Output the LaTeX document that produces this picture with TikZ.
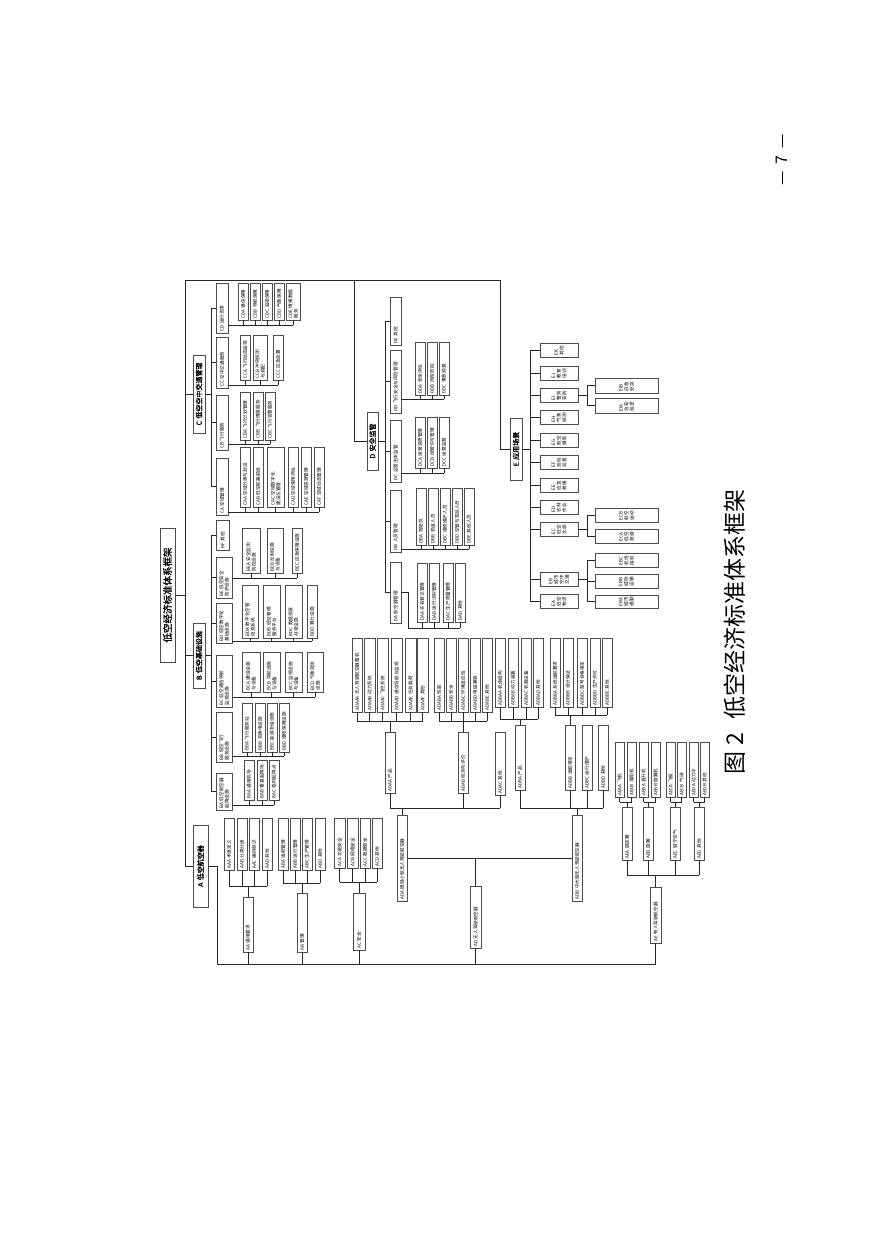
\documentclass[tikz,border=0pt]{standalone}
\usepackage{fontspec}
\setmainfont{Noto Sans CJK SC}
\newfontfamily\heibold[FakeBold=1.2]{Noto Sans CJK SC}
\tikzset{
  bx/.style={draw=black!70, line width=0.5pt, rotate=90, inner xsep=1.5pt, inner ysep=0.5pt,
    font=\fontsize{4.6}{5.5}\selectfont, align=left, fill=white, text=black},
  mainst/.style={font=\heibold\fontsize{7}{8}\selectfont, align=center, line width=0.6pt},
  rootst/.style={font=\heibold\fontsize{9.5}{10}\selectfont, align=center, line width=0.7pt},
  est/.style={align=left},
  cn/.style={draw=black!85, line width=0.8pt},
}
\newcommand{\bx}[7][]{%
  \pgfmathsetmacro{\bxcx}{(#3+#5)/2}%
  \pgfmathsetmacro{\bxcy}{(#4+#6)/2}%
  \pgfmathsetmacro{\bxtw}{#6-#4-3}%
  \pgfmathsetmacro{\bxmh}{#5-#3}%
  \node[bx,#1,text width=\bxtw pt,minimum height=\bxmh pt] (#2) at (\bxcx,\bxcy) {#7};%
}
\newcommand{\upbus}[4]{%
  \coordinate (ub) at (0,#2);
  \draw[cn] (#1.south |- ub) -- (#4.west |- ub);
  \foreach \nd in {#3}{\draw[cn] (\nd.west) -- (\nd.west |- ub);}
}
\newcommand{\upbusj}[4]{%
  \coordinate (ub) at (0,#2);
  \draw[cn] (#1.south) -- ++(7,0) |- (#4.west |- ub);
  \foreach \nd in {#3}{\draw[cn] (\nd.west) -- (\nd.west |- ub);}
}
\newcommand{\dnbus}[5]{%
  \coordinate (db) at (0,#2);
  \draw[cn] (#1.east) -- (#1.east |- db);
  \draw[cn] (#4.west |- db) -- (#5.west |- db);
  \foreach \nd in {#3}{\draw[cn] (\nd.west) -- (\nd.west |- db);}
}
\newcommand{\lbus}[5]{%
  \coordinate (lb) at (#2,0);
  \draw[cn] (#1.south) -- (#1.south -| lb);
  \draw[cn] (#4.north -| lb) -- (#5.north -| lb);
  \foreach \nd in {#3}{\draw[cn] (\nd.north -| lb) -- (\nd.north);}
}
\begin{document}
\begin{tikzpicture}[x=1pt,y=-1pt]
\fill[white] (0,0) rectangle (883,1248);
\useasboundingbox (0,0) rectangle (883,1248);

% ---------- root and main branches
\bx[rootst]{root}{160}{528}{175}{662}{低空经济标准体系框架}
\bx[mainst]{A}{193}{825}{208}{907}{A\ 低空航空器}
\bx[mainst]{B}{193}{623}{205}{688}{B\ 低空基础设施}
\bx[mainst]{C}{193}{355}{205}{433}{C\ 低空空中交通管理}
\bx[mainst]{D}{367}{412}{378}{470}{D\ 安全监管}
\bx[mainst]{E}{510}{418}{522}{480}{E\ 应用场景}

% ---------- C
\bx{CD}{216}{283}{228}{333}{CD 运行支撑}
\bx{CC}{216}{337}{228}{388}{CC 空中交通服务}
\bx{CB}{216}{395}{228}{450}{CB 飞行服务}
\bx{CA}{216}{458}{228}{515}{CA 空域管理}
\bx{CDA}{238}{283}{248}{320}{CDA 通信保障}
\bx{CDB}{250}{283}{260}{320}{CDB 导航保障}
\bx{CDC}{262}{283}{272}{320}{CDC 监视保障}
\bx{CDD}{274}{283}{284}{320}{CDD 气象保障}
\bx{CDE}{286}{283}{300}{320}{CDE 情报数据\\服务}
\bx{CCA}{240}{335}{250}{380}{CCA 飞行动态监视}
\bx{CCB}{253}{335}{267}{380}{CCB 冲突探测\\与调配}
\bx{CCC}{273}{335}{283}{380}{CCC 应急处置}
\bx{CBA}{240}{392}{250}{440}{CBA 飞行计划管理}
\bx{CBB}{253}{392}{263}{440}{CBB 飞行情报服务}
\bx{CBC}{265}{392}{275}{440}{CBC 飞行告警服务}
\bx{CAA}{240}{447}{250}{507}{CAA 空域分类与划设}
\bx{CAB}{253}{447}{263}{507}{CAB 低空航路航线}
\bx{CAC}{267}{447}{284}{507}{CAC 空域数字化\\建设与管理}
\bx{CAD}{288}{447}{298}{507}{CAD 空域使用评估}
\bx{CAE}{301}{447}{311}{507}{CAE 空域资源管理}
\bx{CAF}{314}{447}{324}{507}{CAF 空域动态管理}

% ---------- B
\bx{BF}{216}{520}{229}{550}{BF 其他}
\bx{BE}{216}{557}{232}{598}{BE 低空安全\\防护设施}
\bx{BD}{216}{603}{232}{643}{BD 低空数字化\\基础设施}
\bx{BC}{216}{655}{232}{707}{BC 低空通信导航\\监视设施}
\bx{BB}{216}{712}{232}{762}{BB 低空飞行\\服务设施}
\bx{BA}{216}{773}{232}{810}{BA 低空航空器\\起降设施}
\bx{BEA}{242}{528}{260}{573}{BEA 安全监测\\防控设施}
\bx{BEB}{267}{528}{283}{573}{BEB 反制设施\\与设备}
\bx{BEC}{292}{528}{302}{573}{BEC 应急保障设施}
\bx{BDA}{242}{585}{258}{638}{BDA 数字化空管\\信息系统}
\bx{BDB}{263}{585}{280}{638}{BDB 低空管理\\服务平台}
\bx{BDC}{285}{585}{302}{638}{BDC 数据资源\\共享设施}
\bx{BDD}{307}{585}{317}{638}{BDD 算力设施}
\bx{BCA}{242}{652}{260}{692}{BCA 通信设施\\与设备}
\bx{BCB}{263}{652}{280}{692}{BCB 导航设施\\与设备}
\bx{BCC}{285}{652}{302}{692}{BCC 监视设施\\与设备}
\bx{BCD}{307}{652}{323}{692}{BCD 气象观测\\设施}
\bx{BBA}{242}{703}{252}{752}{BBA 飞行服务站}
\bx{BBB}{255}{703}{265}{752}{BBB 充换电设施}
\bx{BBC}{267}{703}{277}{752}{BBC 能源补给设施}
\bx{BBD}{279}{703}{289}{752}{BBD 维修保障设施}
\bx{BAA}{244}{760}{254}{800}{BAA 通用机场}
\bx{BAB}{257}{760}{267}{800}{BAB 垂直起降场}
\bx{BAC}{269}{760}{279}{800}{BAC 临时起降点}

% ---------- D
\bx{DE}{390}{297}{401}{345}{DE 其他}
\bx{DD}{390}{350}{401}{413}{DD 飞行安全与风险管理}
\bx{DC}{390}{420}{401}{482}{DC 运营主体监管}
\bx{DB}{390}{490}{401}{552}{DB 人员管理}
\bx{DA}{390}{562}{401}{623}{DA 航空器管理}
\bx{DDA}{415}{342}{425}{395}{DDA 安全评估}
\bx{DDB}{427}{342}{437}{395}{DDB 风险防控}
\bx{DDC}{439}{342}{449}{395}{DDC 事故调查}
\bx{DCA}{415}{417}{425}{468}{DCA 运营资质管理}
\bx{DCB}{427}{417}{437}{468}{DCB 经营许可管理}
\bx{DCC}{439}{417}{449}{468}{DCC 运营监督}
\bx{DBA}{416}{488}{426}{545}{DBA 驾驶员}
\bx{DBB}{428}{488}{438}{545}{DBB 机组人员}
\bx{DBC}{440}{488}{450}{545}{DBC 维修维护人员}
\bx{DBD}{452}{488}{462}{545}{DBD 空管与签派人员}
\bx{DBE}{464}{488}{474}{545}{DBE 其他人员}
\bx{DAA}{417}{563}{427}{622}{DAA 实名登记管理}
\bx{DAB}{429}{563}{439}{622}{DAB 运行识别管理}
\bx{DAC}{443}{563}{453}{622}{DAC 生产质量管理}
\bx{DAD}{455}{563}{465}{622}{DAD 其他}

% ---------- E
\bx[est]{EK}{540}{343}{578}{357}{EK\\其他}
\bx[est]{EJ}{540}{366}{578}{380}{EJ\\教育\\培训}
\bx[est]{EI}{540}{388}{578}{402}{EI\\警务\\安防}
\bx[est]{EH}{540}{410}{578}{424}{EH\\气象\\探测}
\bx[est]{EG}{540}{433}{578}{447}{EG\\航空\\摄影}
\bx[est]{EF}{540}{455}{578}{469}{EF\\巡检\\巡查}
\bx[est]{EE}{540}{478}{578}{492}{EE\\应急\\救援}
\bx[est]{ED}{540}{500}{578}{514}{ED\\农林\\作业}
\bx[est]{EC}{540}{522}{578}{536}{EC\\低空\\文旅}
\bx[est]{EB}{540}{572}{578}{586}{EB\\城市\\空中\\交通}
\bx[est]{EA}{540}{594}{578}{608}{EA\\低空\\物流}
\bx[est]{EIB}{595}{378}{658}{393}{EIB\\应急\\处突}
\bx[est]{EIA}{595}{398}{658}{413}{EIA\\治安\\巡逻}
\bx[est]{ECB}{595}{508}{658}{522}{ECB\\航空\\运动}
\bx[est]{ECA}{595}{529}{658}{543}{ECA\\低空\\旅游}
\bx[est]{EBC}{595}{553}{658}{567}{EBC\\机场\\接驳}
\bx[est]{EBB}{595}{574}{658}{588}{EBB\\城际\\运输}
\bx[est]{EBA}{595}{595}{658}{608}{EBA\\城市\\通勤}

% ---------- A
\bx{AAA}{224}{818}{234}{870}{AAA 术语定义}
\bx{AAB}{237}{818}{247}{870}{AAB 分类分级}
\bx{AAC}{249}{818}{259}{870}{AAC 编码标识}
\bx{AAD}{262}{818}{272}{870}{AAD 其他}
\bx{AA}{243}{897}{253}{952}{AA 通用要求}
\bx{ABA}{278}{818}{288}{870}{ABA 适航管理}
\bx{ABB}{290}{818}{300}{870}{ABB 运行管理}
\bx{ABC}{302}{818}{312}{870}{ABC 生产管理}
\bx{ABD}{315}{818}{325}{870}{ABD 其他}
\bx{AB}{297}{893}{307}{952}{AB 管理}
\bx{ACA}{334}{818}{345}{868}{ACA 功能安全}
\bx{ACB}{347}{818}{358}{868}{ACB 网络安全}
\bx{ACC}{360}{818}{370}{868}{ACC 数据安全}
\bx{ACD}{372}{818}{382}{868}{ACD 其他}
\bx{AC}{353}{893}{365}{950}{AC 安全}

\bx{AD}{470}{886}{481}{948}{AD 无人驾驶航空器}
\bx{ADA}{397}{815}{407}{901}{ADA 微轻小型无人驾驶航空器}
\bx{ADB}{572}{815}{582}{901}{ADB 中大型无人驾驶航空器}
\bx{ADAA}{385}{732}{395}{793}{ADAA 产品}
\bx{ADAB}{458}{732}{468}{793}{ADAB 检测与评价}
\bx{ADAC}{495}{732}{505}{795}{ADAC 其他}
\bx{ADAAA}{352}{638}{362}{712}{ADAAA 无人驾驶航空器整机}
\bx{ADAAB}{364}{638}{375}{712}{ADAAB 动力系统}
\bx{ADAAC}{377}{638}{388}{712}{ADAAC 飞控系统}
\bx{ADAAD}{391}{638}{402}{712}{ADAAD 通信导航与监视}
\bx{ADAAE}{405}{638}{416}{712}{ADAAE 任务载荷}
\bx{ADAAF}{417}{638}{428}{712}{ADAAF 其他}
\bx{ADABA}{434}{638}{444}{712}{ADABA 性能}
\bx{ADABB}{446}{638}{456}{712}{ADABB 安全}
\bx{ADABC}{458}{638}{468}{712}{ADABC 环境适应性}
\bx{ADABD}{470}{638}{480}{712}{ADABD 电磁兼容}
\bx{ADABE}{482}{638}{492}{712}{ADABE 其他}
\bx{ADBA}{515}{725}{525}{790}{ADBA 产品}
\bx{ADBB}{565}{725}{575}{790}{ADBB 适航审定}
\bx{ADBC}{582}{725}{592}{790}{ADBC 运行维护}
\bx{ADBD}{598}{725}{608}{790}{ADBD 其他}
\bx{ADBAA}{495}{638}{505}{707}{ADBAA 机体结构}
\bx{ADBAB}{508}{638}{518}{707}{ADBAB 动力装置}
\bx{ADBAC}{521}{638}{531}{707}{ADBAC 机载设备}
\bx{ADBAD}{533}{638}{543}{707}{ADBAD 其他}
\bx{ADBBA}{550}{638}{560}{707}{ADBBA 系统适航要求}
\bx{ADBBB}{563}{638}{573}{707}{ADBBB 设计保证}
\bx{ADBBC}{577}{638}{587}{707}{ADBBC 型号合格审定}
\bx{ADBBD}{590}{638}{600}{707}{ADBBD 生产许可}
\bx{ADBBE}{602}{638}{612}{707}{ADBBE 其他}

\bx{AE}{650}{887}{661}{943}{AE 有人驾驶航空器}
\bx{AEA}{622}{807}{632}{860}{AEA 固定翼}
\bx{AEB}{643}{807}{653}{860}{AEB 旋翼}
\bx{AEC}{670}{807}{680}{860}{AEC 轻于空气}
\bx{AED}{694}{807}{704}{860}{AED 其他}
\bx{AEAA}{615}{742}{624}{797}{AEAA 飞机}
\bx{AEAB}{627}{742}{636}{797}{AEAB 滑翔机}
\bx{AEBA}{639}{742}{648}{797}{AEBA 直升机}
\bx{AEBB}{651}{742}{660}{797}{AEBB 旋翼机}
\bx{AECA}{666}{742}{675}{797}{AECA 飞艇}
\bx{AECB}{677}{742}{686}{797}{AECB 气球}
\bx{AEDA}{689}{742}{698}{797}{AEDA 动力伞}
\bx{AEDB}{700}{742}{709}{797}{AEDB 其他}

% ---------- connectors: root level
\coordinate (rt) at (185,280);
\coordinate (dt) at (354,280);
\coordinate (et) at (500,280);
\coordinate (ab) at (217,964);
\draw[cn] (root.south) -- (root.south -| rt);
\draw[cn] (rt) -- (rt |- A.north);
\draw[cn] (C.north -| rt) -- (C.north);
\draw[cn] (B.north -| rt) -- (B.north);
\draw[cn] (A.north -| rt) -- (A.north);
\draw[cn] (rt) -- (et) |- (E.north);
\draw[cn] (dt) |- (D.north);
\draw[cn] (A.south) -| (ab) -- (ab -| AE.west);
\foreach \nd in {AA,AB,AC,AD,AE}{\draw[cn] (\nd.west) -- (\nd.west |- ab);}
\draw[cn] (ADA.south) -- (ADB.north);
\draw[cn] (AD.east) -- (AD.east |- ADA.south);

% ---------- C, B, D, E buses
\lbus{C}{211}{CA,CB,CC,CD}{CA}{CD}
\lbus{B}{211}{BA,BB,BC,BD,BE,BF}{BA}{BF}
\lbus{D}{385}{DA,DB,DC,DD,DE}{DA}{DE}
\lbus{E}{530}{EA,EB,EC,ED,EE,EF,EG,EH,EI,EJ,EK}{EA}{EK}
\lbus{EI}{587}{EIA,EIB}{EIA}{EIB}
\lbus{EC}{587}{ECA,ECB}{ECA}{ECB}
\lbus{EB}{587}{EBA,EBB,EBC}{EBA}{EBC}

\upbus{CD}{325}{CDA,CDB,CDC,CDD,CDE}{CDE}
\upbus{CC}{385}{CCA,CCB,CCC}{CCC}
\upbus{CB}{444}{CBA,CBB,CBC}{CBC}
\upbus{CA}{512}{CAA,CAB,CAC,CAD,CAE,CAF}{CAF}
\upbus{BE}{578}{BEA,BEB,BEC}{BEC}
\upbus{BD}{641}{BDA,BDB,BDC,BDD}{BDD}
\upbus{BC}{697}{BCA,BCB,BCC,BCD}{BCD}
\upbus{BB}{756}{BBA,BBB,BBC,BBD}{BBD}
\upbus{BA}{805}{BAA,BAB,BAC}{BAC}
\upbus{DD}{399}{DDA,DDB,DDC}{DDC}
\upbus{DC}{473}{DCA,DCB,DCC}{DCC}
\upbus{DB}{549}{DBA,DBB,DBC,DBD,DBE}{DBE}
\upbusj{DA}{628}{DAA,DAB,DAC,DAD}{DAD}

% ---------- A buses
\dnbus{AA}{886}{AAA,AAB,AAC,AAD}{AAA}{AAD}
\dnbus{AB}{883}{ABA,ABB,ABC,ABD}{ABA}{ABD}
\dnbus{AC}{882}{ACA,ACB,ACC,ACD}{ACA}{ACD}
\dnbus{ADA}{808}{ADAA,ADAB,ADAC}{ADAA}{ADAC}
\dnbus{ADB}{808}{ADBA,ADBB,ADBC,ADBD}{ADBA}{ADBD}
\dnbus{ADAA}{721}{ADAAA,ADAAB,ADAAC,ADAAD,ADAAE,ADAAF}{ADAAA}{ADAAF}
\dnbus{ADAB}{721}{ADABA,ADABB,ADABC,ADABD,ADABE}{ADABA}{ADABE}
\dnbus{ADBA}{719}{ADBAA,ADBAB,ADBAC,ADBAD}{ADBAA}{ADBAD}
\dnbus{ADBB}{715}{ADBBA,ADBBB,ADBBC,ADBBD,ADBBE}{ADBBA}{ADBBE}
\dnbus{AE}{875}{AEA,AEB,AEC,AED}{AEA}{AED}
\dnbus{AEA}{802}{AEAA,AEAB}{AEAA}{AEAB}
\dnbus{AEB}{802}{AEBA,AEBB}{AEBA}{AEBB}
\dnbus{AEC}{802}{AECA,AECB}{AECA}{AECB}
\dnbus{AED}{802}{AEDA,AEDB}{AEDA}{AEDB}

% ---------- caption and page number
\node[rotate=90, anchor=west, inner sep=0pt, font=\fontsize{23}{23}\selectfont] (cap) at (735,775) {图\hspace{6pt}2\hspace{14pt}低空经济标准体系框架};
\node[rotate=90, inner sep=0pt, font=\fontsize{16}{16}\selectfont] (pg) at (782,160) {—\hspace{7pt}7\hspace{7pt}—};
\end{tikzpicture}
\end{document}
